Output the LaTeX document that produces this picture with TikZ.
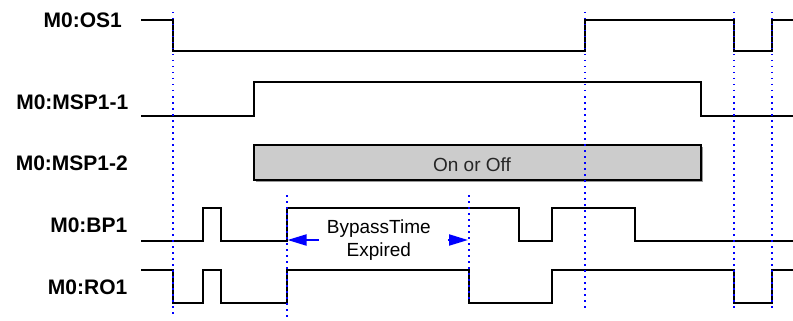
\documentclass[tikz,border=0pt]{standalone}
\usepackage{fontspec}
\setmainfont{Liberation Sans}
\usetikzlibrary{arrows.meta}
\definecolor{markblue}{RGB}{0,0,255}
\definecolor{boxgrey}{RGB}{204,204,204}

\begin{document}
\begin{tikzpicture}[x=1pt, y=-1pt,
  lbl/.style={anchor=east, inner sep=0pt, font=\fontsize{21}{25}\selectfont\bfseries},
  wave/.style={line width=2.5pt},
  marker/.style={markblue, line width=1.5pt, dash pattern=on 1.5pt off 4.5pt},
  note/.style={inner xsep=7.5pt, inner ysep=0pt, align=center, font=\fontsize{19}{23}\selectfont},
  arrow/.style={-{Triangle[length=19pt, width=11pt]}, markblue, line width=2pt},
]
  \useasboundingbox (0,0) rectangle (793,321);

  \node[lbl] (os1) at (122,20) {M0:OS1};
  \node[lbl] (msp11) at (128.5,102.5) {M0:MSP1-1};
  \node[lbl] (msp12) at (128,163.7) {M0:MSP1-2};
  \node[lbl] (bp1) at (127.5,225) {M0:BP1};
  \node[lbl] (ro1) at (127.5,287.5) {M0:RO1};

  \draw[wave] (141,20) -- (173,20) -- (173,51) -- (585,51) -- (585,20) -- (734,20) -- (734,51) -- (772,51) -- (772,20) -- (793,20);
  \draw[wave] (141,116) -- (254,116) -- (254,82) -- (701,82) -- (701,116) -- (793,116);
  \fill[black!40] (255.5,146.5) rectangle (702.5,181.5);
  \draw[line width=2.5pt, fill=boxgrey] (254,145) rectangle (701,180);
  \node[font=\fontsize{19}{23}\selectfont, text=black!85, inner sep=0pt] (onoff) at (472,165) {On or Off};
  \draw[wave] (141,241) -- (203,241) -- (203,208) -- (221,208) -- (221,241) -- (287,241) -- (287,208) -- (519,208) -- (519,241) -- (552,241) -- (552,208) -- (635,208) -- (635,241) -- (793,241);
  \draw[wave] (141,270) -- (173,270) -- (173,303) -- (203,303) -- (203,270) -- (221,270) -- (221,303) -- (287,303) -- (287,270) -- (469,270) -- (469,303) -- (552,303) -- (552,270) -- (734,270) -- (734,303) -- (772,303) -- (772,270) -- (793,270);

  \node[note] (bypass) at (378.8,240) {BypassTime\\Expired};
  \coordinate (bpstart) at (287.5,240);
  \coordinate (bpend) at (468,240);
  \draw[arrow] (bypass.west) -- (bpstart);
  \draw[arrow, shorten <=9.5pt] (bypass.east) -- (bpend);

  \draw[marker] (173,12) -- (173,318);
  \draw[marker] (585,12) -- (585,312);
  \draw[marker] (734,12) -- (734,312);
  \draw[marker] (772,12) -- (772,312);
  \draw[marker] (287,195) -- (287,318);
  \draw[marker] (469,195) -- (469,303);
\end{tikzpicture}
\end{document}
